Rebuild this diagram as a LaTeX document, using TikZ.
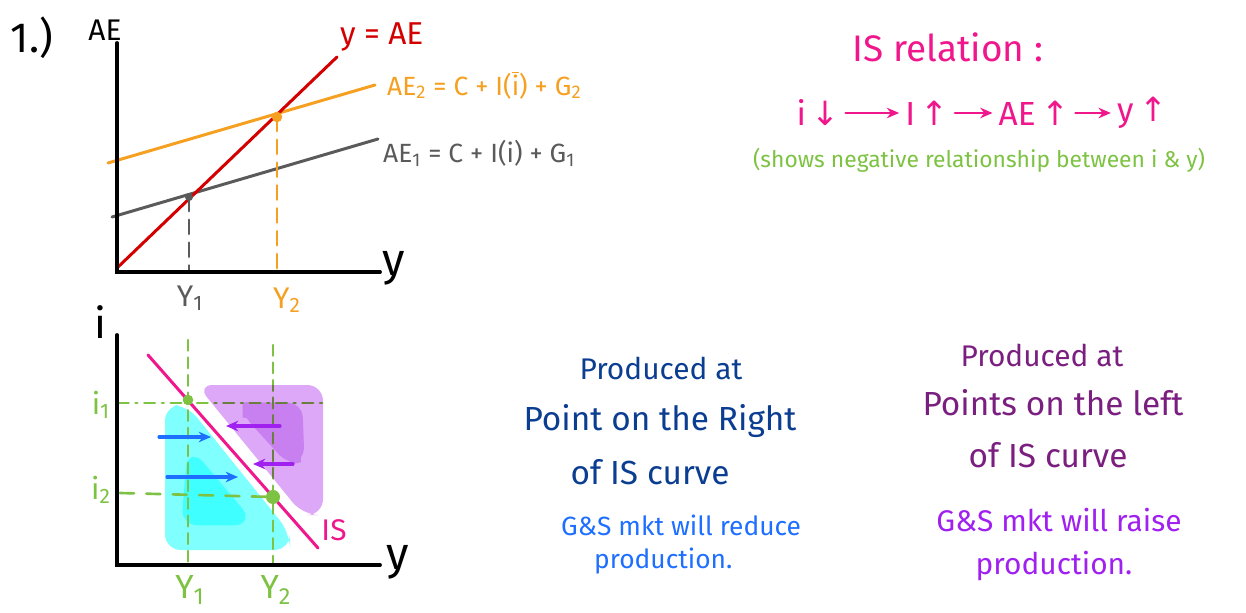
\documentclass[tikz,border=0pt]{standalone}
\usepackage{fontspec}
\setmainfont{Fira Sans}
\newfontfamily\arrowfont{DejaVu Sans}
\usetikzlibrary{arrows.meta}

\definecolor{aered}{HTML}{D40000}
\definecolor{aeorange}{HTML}{F5A020}
\definecolor{aegray}{HTML}{5A5A5A}
\definecolor{ispink}{HTML}{F0168C}
\definecolor{isgreen}{HTML}{7DC242}
\definecolor{isolive}{HTML}{6B7D3F}
\definecolor{zonecyan}{HTML}{80FFFF}
\definecolor{zonecyandeep}{HTML}{40FFFF}
\definecolor{zonepurple}{HTML}{DDA8F8}
\definecolor{zonepurpledeep}{HTML}{C880F0}
\definecolor{pushblue}{HTML}{1E6FFF}
\definecolor{pushviolet}{HTML}{A020F0}
\definecolor{noteblue}{HTML}{0B3D91}
\definecolor{noteplum}{HTML}{7A1F7F}

\begin{document}
\begin{tikzpicture}[x=0.2mm, y=-0.2mm, line cap=round,
    axis/.style={line width=2.2pt},
    curve/.style={line width=1.7pt},
    drop/.style={line width=1.6pt, dash pattern=on 8pt off 5pt},
    guide/.style={line width=1.5pt, dash pattern=on 6pt off 4pt},
    push/.style={-{Stealth[length=7pt,width=6pt]}, line width=1.8pt},
    hand/.style={font=\fontsize{#1}{#1}\selectfont}]
  \useasboundingbox (0,0) rectangle (1246,613);

  % Top panel: Keynesian cross
  \node[hand=24] (num) at (32,38) {1.)};
  \coordinate (ae top) at (117,43);
  \coordinate (o1) at (117,272);
  \coordinate (y end1) at (380,272);
  \node[hand=17] (aelab) at (105,30) {AE};
  \node[hand=26] (ylab1) at (394,268) {y};

  % AE curves
  \coordinate (red a) at (117,268);
  \coordinate (red b) at (337,57);
  \coordinate (or a) at (108,163);
  \coordinate (or b) at (375,85);
  \coordinate (gr a) at (112,217);
  \coordinate (gr b) at (378,139);
  \draw[curve, aeorange] (or a) -- (or b);
  \draw[curve, aegray] (gr a) -- (gr b);
  \draw[curve, aered] (red a) -- (red b);
  \node[hand=18, aered, anchor=west] (redlab) at (334,37) {y = AE};
  \node[hand=15, aeorange, anchor=west] (ae2lab) at (381,85)
    {AE\textsubscript{2} = C + I($\overline{\mbox{i}}$) + G\textsubscript{2}};
  \node[hand=15, aegray, anchor=west] (ae1lab) at (377,153)
    {AE\textsubscript{1} = C + I(i) + G\textsubscript{1}};

  % equilibria
  \coordinate (eq1) at (189,197);
  \coordinate (eq2) at (277,117);
  \coordinate (foot1) at (189,272);
  \coordinate (foot2) at (277,272);
  \draw[drop, aegray] (eq1) -- (foot1);
  \draw[drop, aeorange] (eq2) -- (foot2);
  \fill[aegray] (eq1) circle (2.3pt);
  \fill[aeorange] (eq2) circle (3pt);
  \draw[axis] (ae top) -- (o1) -- (y end1);
  \node[hand=17, aegray] (y1top) at (190,298) {Y\textsubscript{1}};
  \node[hand=17, aeorange] (y2top) at (287,300) {Y\textsubscript{2}};

  % Bottom panel: IS curve
  \coordinate (i top) at (117,335);
  \coordinate (o2) at (117,565);
  \coordinate (y end2) at (380,565);
  \node[hand=24] (ilab) at (100,322) {i};
  \node[hand=26] (ylab2) at (398,562) {y};

  % zones off the curve
  \fill[zonecyan, rounded corners=9pt]
    (165,405) -- (187,405) -- (290,533) -- (290,550) -- (165,550) -- cycle;
  \filldraw[zonecyandeep, line width=6pt, rounded corners=6pt]
    (192,457) -- (245,520) -- (187,520) -- cycle;
  \fill[zonepurple, rounded corners=9pt]
    (197,385) -- (323,385) -- (323,515) -- (303,515) -- cycle;
  \filldraw[zonepurpledeep, line width=5pt, rounded corners=6pt]
    (247,407) -- (298,407) -- (300,458) -- (290,460) -- (247,413) -- cycle;

  % guides through the two points
  \coordinate (pt1) at (188,400);
  \coordinate (pt2) at (273,497);
  \draw[guide, isgreen] (188,340) -- (188,565);
  \draw[guide, isgreen] (273,345) -- (273,565);
  \draw[guide, isgreen, dash pattern=on 6pt off 4pt on 1pt off 4pt]
    (118,403) -- (325,403);
  \draw[guide, isgreen, dash pattern=on 8pt off 7pt] (120,493) -- (pt2);
  \begin{scope}
    \clip[rounded corners=9pt]
      (197,385) -- (323,385) -- (323,515) -- (303,515) -- cycle;
    \draw[guide, isolive] (273,345) -- (273,565);
    \draw[guide, isolive, dash pattern=on 6pt off 4pt on 1pt off 4pt]
      (118,403) -- (325,403);
  \end{scope}

  % IS line
  \coordinate (is a) at (148,355);
  \coordinate (is b) at (318,548);
  \draw[curve, ispink] (is a) -- (is b);
  \node[hand=17, ispink] (islab) at (334,530) {IS};

  % adjustment arrows
  \draw[push, pushblue] (159,437) -- (211,437);
  \draw[push, pushblue] (167,477) -- (238,477);
  \draw[push, pushviolet] (280,426) -- (226,426);
  \draw[push, pushviolet] (293,464) -- (253,464);

  \fill[isgreen] (pt1) circle (3pt);
  \fill[isgreen] (pt2) circle (4pt);
  \draw[axis] (i top) -- (o2) -- (y end2);
  \node[hand=17, isgreen] (i1lab) at (101,405) {i\textsubscript{1}};
  \node[hand=17, isgreen] (i2lab) at (101,490) {i\textsubscript{2}};
  \node[hand=19, isgreen] (y1bot) at (190,590) {Y\textsubscript{1}};
  \node[hand=19, isgreen] (y2bot) at (276,590) {Y\textsubscript{2}};

  % IS relation chain
  \node[hand=21, ispink] (title) at (948,47) {IS relation :};
  \node[hand=19, ispink] (ri) at (818,113) {i\,{\arrowfont↓}};
  \node[hand=19, ispink] (rI) at (927,113) {I\,{\arrowfont↑}};
  \node[hand=19, ispink] (rAE) at (1034,113) {AE\,{\arrowfont↑}};
  \node[hand=19, ispink] (ry) at (1142,113) {y\,{\arrowfont↑}};
  \draw[push, ispink, line width=1.5pt] (ri) -- (rI);
  \draw[push, ispink, line width=1.5pt] (rI) -- (rAE);
  \draw[push, ispink, line width=1.5pt] (rAE) -- (ry);
  \node[hand=13, isgreen] (neg) at (979,160)
    {(shows negative relationship between i \& y)};

  % notes: right of IS
  \node[hand=17, noteblue] (r1) at (661,368) {Produced at};
  \node[hand=19, noteblue] (r2) at (660,421) {Point on the Right};
  \node[hand=19, noteblue] (r3) at (650,472) {of IS curve};
  \node[hand=15, pushblue, anchor=west] (r4) at (555,525) {G\&S mkt will reduce};
  \node[hand=15, pushblue, anchor=west] (r5) at (588,561) {production.};

  % notes: left of IS
  \node[hand=17, noteplum] (l1) at (1042,355) {Produced at};
  \node[hand=19, noteplum] (l2) at (1053,403) {Points on the left};
  \node[hand=19, noteplum] (l3) at (1048,455) {of IS curve};
  \node[hand=17, pushviolet] (l4) at (1059,520) {G\&S mkt will raise};
  \node[hand=17, pushviolet] (l5) at (1054,566) {production.};
\end{tikzpicture}
\end{document}
